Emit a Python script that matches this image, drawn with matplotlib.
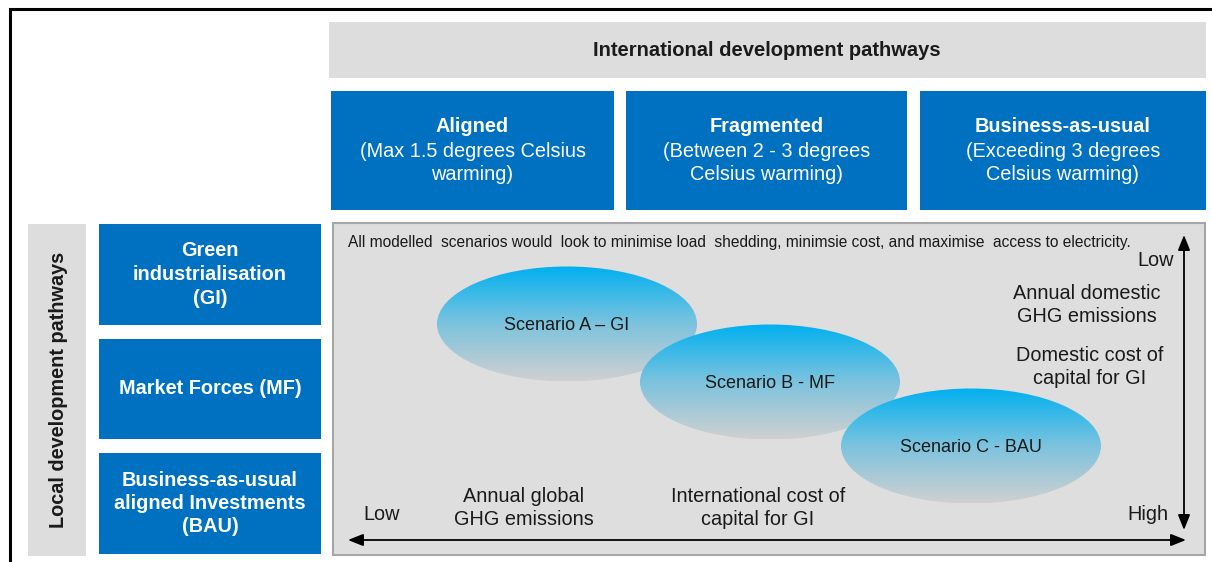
import numpy as np
import matplotlib.pyplot as plt
from matplotlib.patches import Rectangle, Ellipse
from matplotlib.colors import LinearSegmentedColormap

plt.rcParams['font.family'] = ['Liberation Sans', 'DejaVu Sans']

# column headers (international pathways)
col_titles = ["Aligned", "Fragmented", "Business-as-usual"]
col_subtitles = ["(Max 1.5 degrees Celsius\nwarming)",
                 "(Between 2 - 3 degrees\nCelsius warming)",
                 "(Exceeding 3 degrees\nCelsius warming)"]

# row headers (local pathways)
row_labels = ["Green\nindustrialisation\n(GI)",
              "Market Forces (MF)",
              "Business-as-usual\naligned Investments\n(BAU)"]

scenarios = ["Scenario A \u2013 GI", "Scenario B - MF", "Scenario C - BAU"]

note = ("All modelled  scenarios would  look to minimise load  shedding, "
        "minimsie cost, and maximise  access to electricity.")

x_axis_labels = ["Annual global\nGHG emissions", "International cost of\ncapital for GI"]
y_axis_labels = ["Annual domestic\nGHG emissions", "Domestic cost of\ncapital for GI"]

BLUE = "#0070C0"
GREY = "#DDDDDD"
TXT = "#1A1A1A"

fig = plt.figure(figsize=(12.12, 5.62), dpi=100)
ax = fig.add_axes([0, 0, 1, 1])
ax.set_xlim(0, 1212)
ax.set_ylim(562, 0)
ax.axis("off")

# outer frame (left and top)
ax.plot([10, 10, 1212], [562, 9, 9], color="black", lw=2.2, solid_joinstyle="miter")

# top header
ax.add_patch(Rectangle((329, 22), 877, 56, fc=GREY, ec="none"))
ax.text(767, 50, "International development pathways", ha="center", va="center",
        fontsize=14.5, fontweight="bold", color=TXT)

# column boxes
col_x = [(331, 614), (626, 907), (920, 1206)]
for (x0, x1), title, sub in zip(col_x, col_titles, col_subtitles):
    ax.add_patch(Rectangle((x0, 91), x1 - x0, 119, fc=BLUE, ec="none"))
    cx = (x0 + x1) / 2
    ax.text(cx, 127, title, ha="center", va="center", fontsize=14.3,
            fontweight="bold", color="white")
    ax.text(cx, 163, sub, ha="center", va="center", fontsize=14.3,
            color="white", linespacing=1.3)

# side label
ax.add_patch(Rectangle((28, 224), 58, 332, fc=GREY, ec="none"))
ax.text(58, 390, "Local development pathways", ha="center", va="center",
        rotation=90, fontsize=14.3, fontweight="bold", color=TXT)

# row boxes
row_y = [(224, 325), (339, 439), (453, 554)]
for (y0, y1), lab in zip(row_y, row_labels):
    ax.add_patch(Rectangle((99, y0), 222, y1 - y0, fc=BLUE, ec="none"))
    ax.text(210, (y0 + y1) / 2, lab, ha="center", va="center", fontsize=14.3,
            fontweight="bold", color="white", linespacing=1.3)

# main panel
ax.add_patch(Rectangle((333, 223), 872, 332, fc="#DEDEDE", ec="#A6A6A6", lw=1.5))
ax.text(348, 242, note, ha="left", va="center", fontsize=11.2, color=TXT)

# scenario ellipses with vertical gradient
grad = LinearSegmentedColormap.from_list("sc", ["#00B0F0", "#7CC3DE", "#D0D0D0"])
centres = [(567, 324), (770, 382), (971, 446)]
ew, eh = 260, 115
g = np.linspace(0, 1, 256).reshape(-1, 1)
for i, ((cx, cy), name) in enumerate(zip(centres, scenarios)):
    el = Ellipse((cx, cy), ew, eh, fc="none", ec="none", zorder=3 + i)
    ax.add_patch(el)
    im = ax.imshow(g, cmap=grad, aspect="auto", zorder=3 + i,
                   extent=(cx - ew / 2, cx + ew / 2, cy + eh / 2, cy - eh / 2))
    im.set_clip_path(el)
    ax.text(cx, cy + 1, name, ha="center", va="center", fontsize=13,
            color=TXT, zorder=10)

# axes arrows
ax.annotate("", xy=(348, 540), xytext=(1186, 540),
            arrowprops=dict(arrowstyle="<|-|>,head_length=0.7,head_width=0.28",
                            color="black", lw=1.3,
                            mutation_scale=13, shrinkA=0, shrinkB=0))
ax.annotate("", xy=(1184, 235), xytext=(1184, 530),
            arrowprops=dict(arrowstyle="<|-|>,head_length=0.7,head_width=0.28",
                            color="black", lw=1.3,
                            mutation_scale=13, shrinkA=0, shrinkB=0))

ax.text(382, 514, "Low", ha="center", va="center", fontsize=14.3, color=TXT)
ax.text(1148, 514, "High", ha="center", va="center", fontsize=14.3, color=TXT)
ax.text(1156, 261, "Low", ha="center", va="center", fontsize=14.3, color=TXT)
for xc, lab in zip([524, 758], x_axis_labels):
    ax.text(xc, 508, lab, ha="center", va="center", fontsize=14.3, color=TXT,
            linespacing=1.27)
for (xc, yc), lab in zip([(1087, 305), (1090, 367)], y_axis_labels):
    ax.text(xc, yc, lab, ha="center", va="center", fontsize=14.3, color=TXT,
            linespacing=1.3)

fig.savefig("out.png", dpi=100, facecolor="white")
